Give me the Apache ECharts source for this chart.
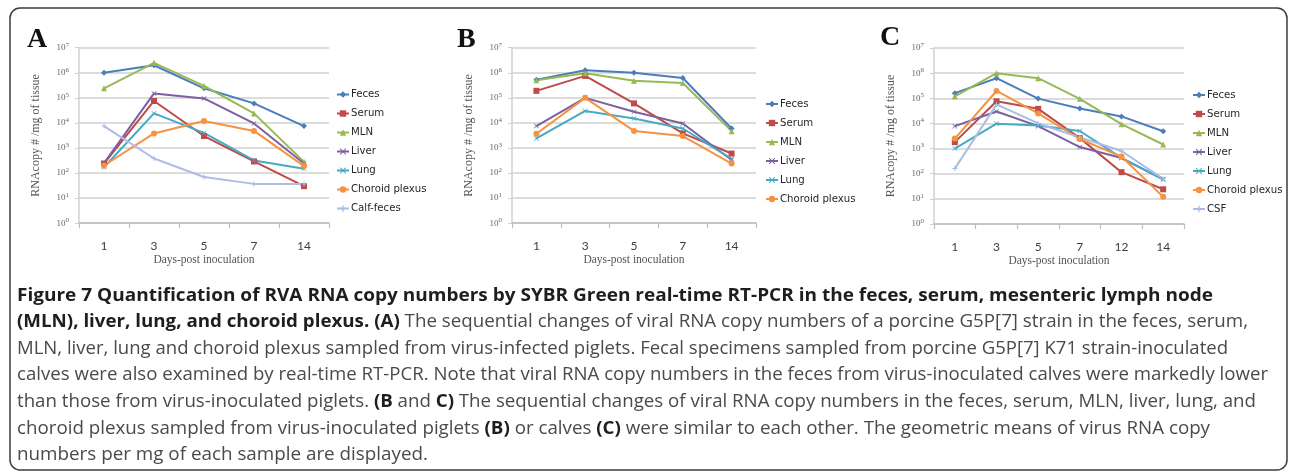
<!DOCTYPE html>
<html><head><meta charset="utf-8">
<script src="https://cdn.jsdelivr.net/npm/echarts@6/dist/echarts.min.js"></script>
<style>html,body{margin:0;padding:0;background:#fff}#c{width:1290px;height:473px}</style>
</head><body><div id="c"></div>
<script>
// ---------- data ----------
const daysAB = ['1', '3', '5', '7', '14'];
const daysC = ['1', '3', '5', '7', '12', '14'];
const yTickExponents = [0, 1, 2, 3, 4, 5, 6, 7];

const namesA = ['Feces', 'Serum', 'MLN', 'Liver', 'Lung', 'Choroid plexus', 'Calf-feces'];
const namesB = ['Feces', 'Serum', 'MLN', 'Liver', 'Lung', 'Choroid plexus'];
const namesC = ['Feces', 'Serum', 'MLN', 'Liver', 'Lung', 'Choroid plexus', 'CSF'];

// Panel A (piglets, porcine strain) + calf feces
const aFeces = [1.0e6, 2.0e6, 2.4e5, 6.0e4, 7.5e3];
const aSerum = [240, 7.5e4, 3.0e3, 290, 30];
const aMLN = [2.4e5, 2.5e6, 3.0e5, 2.4e4, 280];
const aLiver = [250, 1.5e5, 9.5e4, 9.5e3, 240];
const aLung = [170, 2.4e4, 4.0e3, 320, 150];
const aChoroid = [200, 3.8e3, 1.2e4, 4.8e3, 190];
const aCalfFeces = [7.5e3, 380, 70, 37, 37];

// Panel B (piglets)
const bFeces = [5.3e5, 1.25e6, 1.0e6, 6.2e5, 6.0e3];
const bSerum = [1.9e5, 7.5e5, 6.0e4, 3.8e3, 600];
const bMLN = [5.0e5, 9.5e5, 4.8e5, 3.9e5, 4.7e3];
const bLiver = [7.5e3, 1.0e5, 2.8e4, 9.5e3, 330];
const bLung = [2.4e3, 3.0e4, 1.5e4, 6.0e3, 370];
const bChoroid = [3.7e3, 1.0e5, 4.8e3, 3.0e3, 240];

// Panel C (calves)
const cFeces = [1.6e5, 6.3e5, 9.7e4, 3.9e4, 1.9e4, 4.9e3];
const cSerum = [1.8e3, 7.6e4, 3.8e4, 2.6e3, 115, 24];
const cMLN = [1.2e5, 1.0e6, 6.3e5, 9.5e4, 9.3e3, 1.45e3];
const cLiver = [7.8e3, 3.0e4, 7.8e3, 1.15e3, 420, 60];
const cLung = [1.0e3, 9.8e3, 8.2e3, 5.0e3, 430, 60];
const cChoroid = [2.5e3, 1.95e5, 2.5e4, 2.4e3, 480, 12];
const cCSF = [160, 5.7e4, 1.0e4, 2.8e3, 800, 62];

const panelLetters = ['A', 'B', 'C'];
const xAxisTitle = 'Days-post inoculation';
const yAxisTitle = 'RNAcopy # /mg of tissue';

// caption: each line is a list of [weight, text] segments
const captionLines = [
  [['b', 'Figure 7 Quantification of RVA RNA copy numbers by SYBR Green real-time RT-PCR in the feces, serum, mesenteric lymph node']],
  [['b', '(MLN), liver, lung, and choroid plexus. (A)'], ['n', ' The sequential changes of viral RNA copy numbers of a porcine G5P[7] strain in the feces, serum,']],
  [['n', 'MLN, liver, lung and choroid plexus sampled from virus-infected piglets. Fecal specimens sampled from porcine G5P[7] K71 strain-inoculated']],
  [['n', 'calves were also examined by real-time RT-PCR. Note that viral RNA copy numbers in the feces from virus-inoculated calves were markedly lower']],
  [['n', 'than those from virus-inoculated piglets. '], ['b', '(B'], ['n', ' and '], ['b', 'C)'], ['n', ' The sequential changes of viral RNA copy numbers in the feces, serum, MLN, liver, lung, and']],
  [['n', 'choroid plexus sampled from virus-inoculated piglets '], ['b', '(B)'], ['n', ' or calves '], ['b', '(C)'], ['n', ' were similar to each other. The geometric means of virus RNA copy']],
  [['n', 'numbers per mg of each sample are displayed.']]
];

// ---------- styling / layout ----------
const colors = {
  'Feces': '#4a7ebb', 'Serum': '#be4b48', 'MLN': '#98b954', 'Liver': '#7d60a0',
  'Lung': '#46aac5', 'Choroid plexus': '#f69240', 'Calf-feces': '#adbde3', 'CSF': '#a9bce2'
};
const SYM_X = 'path://M1,0L5,4L9,0L10,1L6,5L10,9L9,10L5,6L1,10L0,9L4,5L0,1Z';
const SYM_PLUS = 'path://M4,0H6V4H10V6H6V10H4V6H0V4H4Z';
const symbols = {
  'Feces': 'diamond', 'Serum': 'rect', 'MLN': 'triangle', 'Liver': SYM_X,
  'Lung': SYM_X, 'Choroid plexus': 'circle', 'Calf-feces': SYM_PLUS, 'CSF': SYM_PLUS
};
const symbolSizes = {
  'Feces': 6, 'Serum': 6, 'MLN': 6, 'Liver': 5, 'Lung': 5, 'Choroid plexus': 6, 'Calf-feces': 5, 'CSF': 5
};

const grids = [
  { left: 79, top: 47.7, width: 250, height: 175.5 },
  { left: 512, top: 47.7, width: 244, height: 175.5 },
  { left: 934, top: 48, width: 250, height: 176 }
];
const legendPos = [
  { left: 336, top: 88.5 },
  { left: 765, top: 98 },
  { left: 1192, top: 89 }
];
const letterPos = [[27, 26], [457, 26], [880, 24]];

const serif = '"Liberation Serif", "Times New Roman", serif';
const sans = 'Lato, "Liberation Sans", sans-serif';
const legendFont = '"DejaVu Sans Condensed", Lato, sans-serif';

const panels = [
  { cats: daysAB, names: namesA, data: [aFeces, aSerum, aMLN, aLiver, aLung, aChoroid, aCalfFeces] },
  { cats: daysAB, names: namesB, data: [bFeces, bSerum, bMLN, bLiver, bLung, bChoroid] },
  { cats: daysC, names: namesC, data: [cFeces, cSerum, cMLN, cLiver, cLung, cChoroid, cCSF] }
];

const xAxes = [], yAxes = [], series = [], legends = [];
panels.forEach((p, i) => {
  xAxes.push({
    type: 'category', gridIndex: i, data: p.cats, boundaryGap: true,
    axisLine: { lineStyle: { color: '#bdbdbd', width: 1.5 } },
    axisTick: { show: true, length: 5, lineStyle: { color: '#bdbdbd', width: 1.2 } },
    axisLabel: { color: '#404040', fontSize: 12, fontFamily: sans, margin: 17 },
    splitLine: { show: false },
    name: xAxisTitle, nameLocation: 'middle', nameGap: 31,
    nameTextStyle: { color: '#555', fontSize: 11.5, fontFamily: serif }
  });
  yAxes.push({
    type: 'log', logBase: 10, gridIndex: i, min: Math.pow(10, yTickExponents[0]),
    max: Math.pow(10, yTickExponents[yTickExponents.length - 1]), splitNumber: yTickExponents.length - 1,
    axisLine: { show: true, lineStyle: { color: '#d0d0d0', width: 1.5 } },
    axisTick: { show: true, length: 4, lineStyle: { color: '#d0d0d0' } },
    splitLine: { lineStyle: { color: '#dcdcdc', width: 2 } },
    axisLabel: {
      margin: 10,
      formatter: v => '{a|10}{b|' + Math.round(Math.log10(v)) + '}',
      rich: {
        a: { fontSize: 9, fontFamily: serif, color: '#666' },
        b: { fontSize: 7, fontFamily: serif, color: '#666', padding: [0, 0, 6, 0] }
      }
    },
    name: yAxisTitle, nameLocation: 'middle', nameGap: 37,
    nameTextStyle: { color: '#555', fontSize: 12, fontFamily: serif }
  });
  p.names.forEach((n, k) => {
    series.push({
      type: 'line', name: n, xAxisIndex: i, yAxisIndex: i, data: p.data[k],
      symbol: symbols[n], symbolSize: symbolSizes[n], showSymbol: true,
      lineStyle: { color: colors[n], width: 2 },
      itemStyle: { color: colors[n] },
      animation: false
    });
  });
  legends.push({
    orient: 'vertical', left: legendPos[i].left, top: legendPos[i].top, padding: 0,
    data: p.names.map(n => ({ name: n })),
    itemWidth: 12, itemHeight: 8, itemGap: 7,
    textStyle: { color: '#262626', fontSize: 11.3, fontFamily: legendFont, lineHeight: 12, padding: [0, 0, 0, -3] },
    selectedMode: false
  });
});

// ---------- caption layout (fit each line to reference width) ----------
const capLeft = 17;
const capTop = 295.5;
const capLineGap = 26.6;
const capEnds = [1213, 1248, 1228, 1268, 1256, 1210, 428];
const capFont = '"Open Sans", "Noto Sans", sans-serif';
const capSize = 18;
const mctx = document.createElement('canvas').getContext('2d');
function segFont(w) { return (w === 'b' ? 'bold ' : '') + capSize + 'px ' + capFont; }
function measure(w, t) { mctx.font = segFont(w); return mctx.measureText(t).width; }

const graphics = [];
graphics.push({
  type: 'rect', shape: { x: 10, y: 8, width: 1277, height: 462, r: 10 },
  style: { fill: 'none', stroke: '#3c3c3c', lineWidth: 1.5 }, silent: true
});
panelLetters.forEach((L, i) => {
  graphics.push({
    type: 'text', x: letterPos[i][0], y: letterPos[i][1],
    style: { text: L, font: 'bold 28px ' + serif, fill: '#111' }
  });
});
captionLines.forEach((segs, li) => {
  let off = 0;
  const children = [];
  segs.forEach(([w, t]) => {
    children.push({
      type: 'text', x: off, y: 0,
      style: {
        text: t, font: segFont(w), fill: w === 'b' ? '#1e1e1e' : '#4a4a4a',
        verticalAlign: 'middle', textVerticalAlign: 'middle'
      }
    });
    off += measure(w, t);
  });
  const target = capEnds[li] - capLeft;
  graphics.push({
    type: 'group', x: capLeft, y: capTop + li * capLineGap,
    scaleX: target / off, children: children
  });
});

const chart = echarts.init(document.getElementById('c'), null, { renderer: 'canvas' });
chart.setOption({
  animation: false,
  backgroundColor: '#fff',
  grid: grids,
  xAxis: xAxes,
  yAxis: yAxes,
  legend: legends,
  series: series,
  graphic: graphics
});
</script></body></html>
